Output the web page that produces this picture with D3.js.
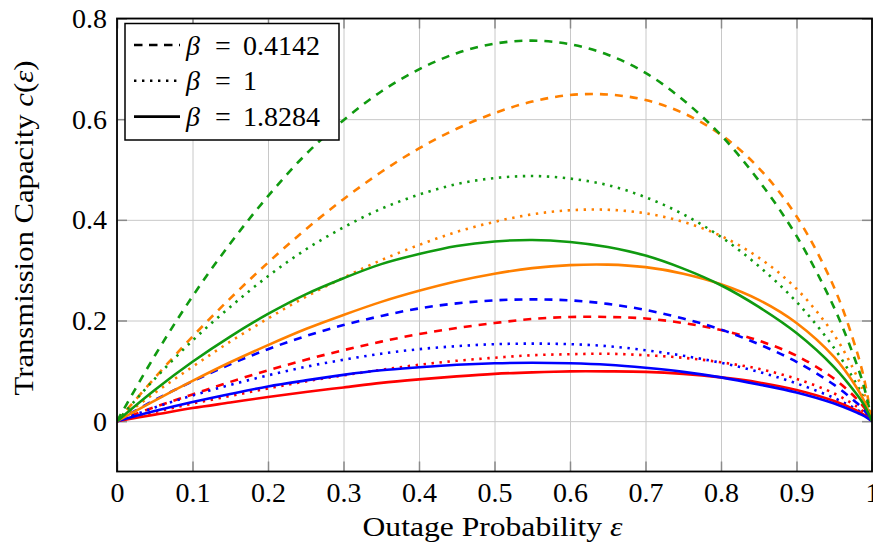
<!DOCTYPE html>
<html lang="en">
<head>
<meta charset="UTF-8">
<title>Transmission Capacity</title>
<script src="https://d3js.org/d3.v7.min.js"></script>
<style>
  body { margin: 0; background: #fff; }
  text { font-family: "Liberation Serif", "Times New Roman", serif; fill: #000; }
</style>
</head>
<body>
<script>
// outage probability samples (x)
var eps = [0, 0.05, 0.1, 0.15, 0.2, 0.25, 0.3, 0.35, 0.4, 0.45, 0.5, 0.55,
           0.6, 0.65, 0.7, 0.75, 0.8, 0.85, 0.9, 0.95, 0.98, 0.99, 1];

// transmission capacity, one list per curve
var greenDash   = [0, 0.130, 0.248, 0.353, 0.447, 0.530, 0.598, 0.655, 0.699, 0.731, 0.750, 0.756, 0.749, 0.728, 0.692, 0.638, 0.568, 0.478, 0.368, 0.225, 0.112, 0.065, 0];
var greenDot    = [0, 0.084, 0.160, 0.227, 0.288, 0.341, 0.385, 0.422, 0.450, 0.471, 0.483, 0.487, 0.482, 0.469, 0.445, 0.411, 0.366, 0.308, 0.237, 0.145, 0.072, 0.042, 0];
var greenSolid  = [0, 0.062, 0.118, 0.168, 0.213, 0.252, 0.284, 0.312, 0.332, 0.348, 0.357, 0.360, 0.356, 0.346, 0.329, 0.303, 0.270, 0.227, 0.175, 0.107, 0.053, 0.031, 0];
var orangeDash  = [0, 0.086, 0.168, 0.244, 0.315, 0.381, 0.441, 0.495, 0.542, 0.581, 0.612, 0.635, 0.648, 0.649, 0.638, 0.612, 0.569, 0.503, 0.407, 0.265, 0.138, 0.081, 0];
var orangeDot   = [0, 0.056, 0.108, 0.158, 0.204, 0.247, 0.285, 0.320, 0.350, 0.376, 0.396, 0.411, 0.419, 0.420, 0.413, 0.396, 0.368, 0.325, 0.263, 0.171, 0.089, 0.053, 0];
var orangeSolid = [0, 0.041, 0.080, 0.117, 0.151, 0.183, 0.211, 0.237, 0.259, 0.278, 0.293, 0.304, 0.310, 0.311, 0.306, 0.293, 0.272, 0.241, 0.195, 0.127, 0.066, 0.039, 0];
var blueDash    = [0, 0.042, 0.079, 0.113, 0.143, 0.169, 0.191, 0.209, 0.224, 0.234, 0.240, 0.242, 0.240, 0.233, 0.221, 0.204, 0.182, 0.153, 0.118, 0.072, 0.036, 0.021, 0];
var blueDot     = [0, 0.027, 0.051, 0.072, 0.091, 0.108, 0.122, 0.134, 0.143, 0.149, 0.153, 0.154, 0.153, 0.149, 0.141, 0.130, 0.116, 0.098, 0.075, 0.046, 0.023, 0.013, 0];
var blueSolid   = [0, 0.020, 0.038, 0.054, 0.069, 0.081, 0.092, 0.101, 0.107, 0.112, 0.115, 0.116, 0.115, 0.112, 0.106, 0.098, 0.087, 0.073, 0.057, 0.035, 0.017, 0.010, 0];
var redDash     = [0, 0.028, 0.053, 0.078, 0.101, 0.122, 0.141, 0.158, 0.173, 0.185, 0.195, 0.203, 0.207, 0.207, 0.204, 0.195, 0.181, 0.160, 0.130, 0.084, 0.044, 0.026, 0];
var redDot      = [0, 0.018, 0.035, 0.050, 0.065, 0.079, 0.091, 0.102, 0.112, 0.120, 0.126, 0.131, 0.133, 0.134, 0.131, 0.126, 0.117, 0.104, 0.084, 0.055, 0.029, 0.017, 0];
var redSolid    = [0, 0.013, 0.026, 0.037, 0.048, 0.058, 0.067, 0.076, 0.083, 0.089, 0.094, 0.097, 0.099, 0.099, 0.098, 0.094, 0.087, 0.077, 0.062, 0.040, 0.021, 0.012, 0];

// ticks and legend
var xTicks = [0, 0.1, 0.2, 0.3, 0.4, 0.5, 0.6, 0.7, 0.8, 0.9, 1];
var yTicks = [0, 0.2, 0.4, 0.6, 0.8];
var betaLabels = ["0.4142", "1", "1.8284"];

// styles
var colors = { green: "#109a10", orange: "#ff8000", blue: "#0000ff", red: "#ff0000" };
var dashes = { dash: "8,7", dot: "2.4,5.6", solid: null };

var series = [
  { v: redDash, c: "red", d: "dash" },       { v: redDot, c: "red", d: "dot" },
  { v: blueDash, c: "blue", d: "dash" },     { v: blueDot, c: "blue", d: "dot" },
  { v: orangeDash, c: "orange", d: "dash" }, { v: orangeDot, c: "orange", d: "dot" },
  { v: greenDash, c: "green", d: "dash" },   { v: greenDot, c: "green", d: "dot" },
  { v: redSolid, c: "red", d: "solid" },     { v: blueSolid, c: "blue", d: "solid" },
  { v: orangeSolid, c: "orange", d: "solid" }, { v: greenSolid, c: "green", d: "solid" }
];

var W = 873, H = 550;
var L = 117, R = 872, T = 18.5, B = 471.5;

var svg = d3.select("body").append("svg")
  .attr("width", W).attr("height", H);

var x = d3.scaleLinear().domain([0, 1]).range([L, R]);
var y = d3.scaleLinear().domain([-0.1, 0.8]).range([B, T]);

// grid
svg.append("g")
  .attr("transform", "translate(0," + B + ")")
  .call(d3.axisBottom(x).tickValues(xTicks).tickSize(-(B - T)).tickFormat(""))
  .call(g => g.select(".domain").remove())
  .call(g => g.selectAll("line").attr("stroke", "#c8c8c8").attr("stroke-width", 1));
svg.append("g")
  .attr("transform", "translate(" + L + ",0)")
  .call(d3.axisLeft(y).tickValues(yTicks).tickSize(-(R - L)).tickFormat(""))
  .call(g => g.select(".domain").remove())
  .call(g => g.selectAll("line").attr("stroke", "#c8c8c8").attr("stroke-width", 1));

// inner tick marks on all four sides
function innerTicks(axis, tr) {
  svg.append("g").attr("transform", tr)
    .call(axis.tickSize(-10).tickFormat(""))
    .call(g => g.select(".domain").remove())
    .call(g => g.selectAll("line").attr("stroke", "#8a8a8a").attr("stroke-width", 1.5));
}
innerTicks(d3.axisBottom(x).tickValues(xTicks), "translate(0," + B + ")");
innerTicks(d3.axisTop(x).tickValues(xTicks), "translate(0," + T + ")");
innerTicks(d3.axisLeft(y).tickValues(yTicks), "translate(" + L + ",0)");
innerTicks(d3.axisRight(y).tickValues(yTicks), "translate(" + R + ",0)");

// tick labels
svg.append("g")
  .attr("transform", "translate(0," + B + ")")
  .call(d3.axisBottom(x).tickValues(xTicks).tickSize(0).tickPadding(11)
    .tickFormat(d => d === 0 || d === 1 ? d3.format("d")(d) : d3.format(".1f")(d)))
  .call(g => g.select(".domain").remove())
  .call(g => g.selectAll("text").attr("font-size", 28).attr("font-family", "Liberation Serif").attr("fill", "#000"));
svg.append("g")
  .attr("transform", "translate(" + L + ",0)")
  .call(d3.axisLeft(y).tickValues(yTicks).tickSize(0).tickPadding(10)
    .tickFormat(d => d === 0 ? "0" : d3.format(".1f")(d)))
  .call(g => g.select(".domain").remove())
  .call(g => g.selectAll("text").attr("font-size", 28).attr("font-family", "Liberation Serif").attr("fill", "#000"));

// curves
svg.append("clipPath").attr("id", "plot")
  .append("rect").attr("x", L).attr("y", T).attr("width", R - L).attr("height", B - T);

var line = d3.line()
  .x((d, i) => x(eps[i]))
  .y(d => y(d))
  .curve(d3.curveCatmullRom.alpha(0.5));

svg.append("g").attr("clip-path", "url(#plot)")
  .selectAll("path")
  .data(series)
  .enter().append("path")
  .attr("d", s => line(s.v))
  .attr("fill", "none")
  .attr("stroke", s => colors[s.c])
  .attr("stroke-width", 2.6)
  .attr("stroke-dasharray", s => dashes[s.d]);

// frame
svg.append("rect")
  .attr("x", L).attr("y", T).attr("width", R - L).attr("height", B - T)
  .attr("fill", "none").attr("stroke", "#000").attr("stroke-width", 1.8);

// axis titles
svg.append("text")
  .attr("x", (L + R) / 2 - 2).attr("y", 536)
  .attr("text-anchor", "middle").attr("font-size", 28)
  .attr("textLength", 260).attr("lengthAdjust", "spacingAndGlyphs")
  .html('Outage Probability <tspan font-style="italic">ε</tspan>');

svg.append("text")
  .attr("transform", "translate(33,228) rotate(-90)")
  .attr("text-anchor", "middle").attr("font-size", 28)
  .attr("textLength", 335).attr("lengthAdjust", "spacingAndGlyphs")
  .html('Transmission Capacity <tspan font-style="italic">c</tspan>(<tspan font-style="italic">ε</tspan>)');

// legend
var leg = svg.append("g");
leg.append("rect")
  .attr("x", 125).attr("y", 23.5).attr("width", 214).attr("height", 116.5)
  .attr("fill", "#fff").attr("stroke", "#000").attr("stroke-width", 1.5);

var legRows = ["dash", "dot", "solid"];
legRows.forEach(function (d, i) {
  var cy = 45 + i * 35.8;
  leg.append("line")
    .attr("x1", 134).attr("x2", 180).attr("y1", cy).attr("y2", cy)
    .attr("stroke", "#000").attr("stroke-width", 2.6)
    .attr("stroke-dasharray", d === "dash" ? "8.5,6.5" : dashes[d]);
  leg.append("text").attr("x", 186).attr("y", cy + 9.5).attr("font-size", 28)
    .attr("font-style", "italic").text("β");
  leg.append("text").attr("x", 215).attr("y", cy + 9.5).attr("font-size", 28).text("=");
  leg.append("text").attr("x", 243).attr("y", cy + 9.5).attr("font-size", 28).text(betaLabels[i]);
});
</script>
</body>
</html>
